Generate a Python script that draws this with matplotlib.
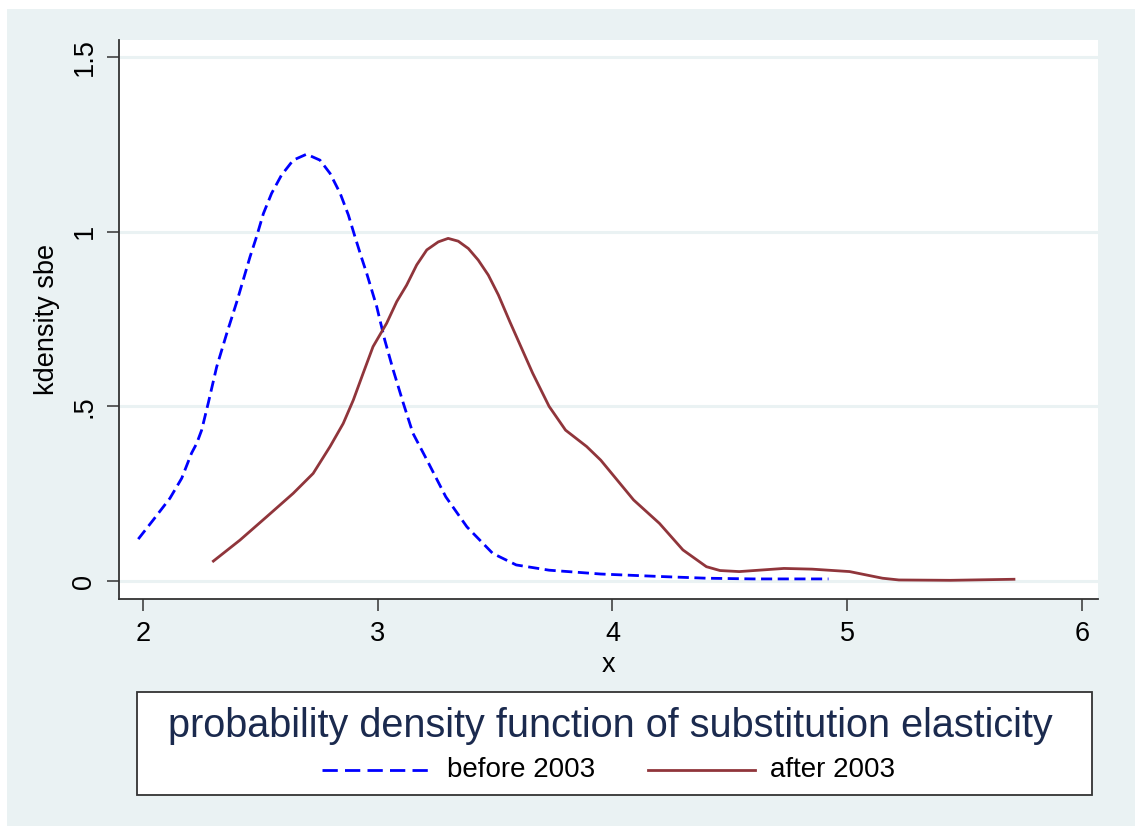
# kdensity of substitution elasticity, before / after 2003 (Stata s2color look)
import matplotlib
matplotlib.use("Agg")
import matplotlib.pyplot as plt
from matplotlib.patches import Rectangle
from matplotlib.lines import Line2D

plt.rcParams['font.family'] = ['Liberation Sans', 'DejaVu Sans']

# curve points
before_x = [1.98, 2.044, 2.115, 2.165, 2.207, 2.229, 2.25, 2.278, 2.314, 2.357, 2.40, 2.456,
            2.484, 2.513, 2.548, 2.59, 2.64, 2.697, 2.754, 2.797, 2.84, 2.875, 2.903, 2.93,
            2.953, 2.996, 3.03, 3.066, 3.109, 3.15, 3.21, 3.29, 3.38, 3.49, 3.59, 3.73,
            3.95, 4.2, 4.4, 4.6, 4.92]
before_y = [0.12, 0.175, 0.237, 0.294, 0.366, 0.394, 0.432, 0.509, 0.613, 0.709, 0.80, 0.928,
            0.986, 1.052, 1.11, 1.162, 1.205, 1.222, 1.205, 1.167, 1.11, 1.048, 0.986, 0.928,
            0.881, 0.785, 0.69, 0.604, 0.509, 0.423, 0.346, 0.241, 0.155, 0.079, 0.046, 0.031,
            0.02, 0.013, 0.008, 0.006, 0.006]

after_x = [2.30, 2.413, 2.527, 2.64, 2.725, 2.797, 2.853, 2.896, 2.938, 2.98, 3.038, 3.081,
           3.123, 3.166, 3.209, 3.258, 3.30, 3.343, 3.386, 3.428, 3.471, 3.514, 3.563, 3.66,
           3.73, 3.80, 3.89, 3.95, 4.09, 4.20, 4.30, 4.40, 4.458, 4.54, 4.73, 4.85, 5.01,
           5.15, 5.22, 5.44, 5.71]
after_y = [0.057, 0.117, 0.184, 0.251, 0.308, 0.385, 0.451, 0.518, 0.595, 0.671, 0.738, 0.80,
           0.847, 0.905, 0.948, 0.971, 0.981, 0.973, 0.952, 0.919, 0.876, 0.819, 0.742, 0.595,
           0.50, 0.432, 0.385, 0.346, 0.232, 0.165, 0.089, 0.041, 0.030, 0.027, 0.036, 0.034, 0.027,
           0.008, 0.003, 0.002, 0.005]

y_ticks = [0, 0.5, 1, 1.5]
y_labels = ['0', '.5', '1', '1.5']
x_ticks = [2, 3, 4, 5, 6]

bg = '#EAF2F3'
blue = '#0000FF'
maroon = '#90353B'
navy = '#1B2A4E'

W, H = 1135, 827
fig = plt.figure(figsize=(W / 100, H / 100), dpi=100, facecolor='white')
fig.patches.append(Rectangle((7 / W, 1 / H), 1 - 7 / W, 817 / H,
                             transform=fig.transFigure, facecolor=bg,
                             edgecolor='none', zorder=-10))

ax = fig.add_axes([119 / W, 228 / H, 979 / W, 559 / H])
ax.set_facecolor('white')
ax.set_xlim(1.898, 6.068)
ax.set_ylim(-0.0515, 1.549)

for y in y_ticks:
    ax.axhline(y, color=bg, lw=2.2, zorder=1)

ax.plot(before_x, before_y, color=blue, lw=2.0, dashes=(4, 2), zorder=3)
ax.plot(after_x, after_y, color=maroon, lw=2.0, zorder=3)

for s in ['top', 'right']:
    ax.spines[s].set_visible(False)
for s in ['left', 'bottom']:
    ax.spines[s].set_color('#333333')
    ax.spines[s].set_linewidth(1.3)

ax.set_yticks(y_ticks)
ax.set_yticklabels(y_labels, rotation=90, va='center')
ax.set_xticks(x_ticks)
ax.tick_params(axis='both', direction='out', length=8.5, width=1.1,
               color='#333333', labelsize=19.5, pad=7)
ax.set_xlabel('x', fontsize=19.5, labelpad=4)
ax.set_ylabel('kdensity sbe', fontsize=19.5, labelpad=8)

# legend box drawn under the plot
fig.patches.append(Rectangle((137 / W, (H - 795) / H), 955 / W, 103 / H,
                             transform=fig.transFigure, facecolor='white',
                             edgecolor='#333333', lw=1.3, zorder=2))
fig.text(610 / W, (H - 726) / H, 'probability density function of substitution elasticity',
         ha='center', va='center', fontsize=28.5, color=navy, zorder=3)
fig.lines.append(Line2D([322 / W, 430 / W], [(H - 770) / H] * 2, transform=fig.transFigure,
                        color=blue, lw=2.0, dashes=(5.5, 2.6), zorder=3))
fig.text(447 / W, (H - 770) / H, 'before 2003', ha='left', va='center',
         fontsize=20, color='black', zorder=3)
fig.lines.append(Line2D([648 / W, 755 / W], [(H - 770) / H] * 2, transform=fig.transFigure,
                        color=maroon, lw=2.0, zorder=3))
fig.text(770 / W, (H - 770) / H, 'after 2003', ha='left', va='center',
         fontsize=20, color='black', zorder=3)

fig.savefig('out.png', dpi=100, facecolor='white')
